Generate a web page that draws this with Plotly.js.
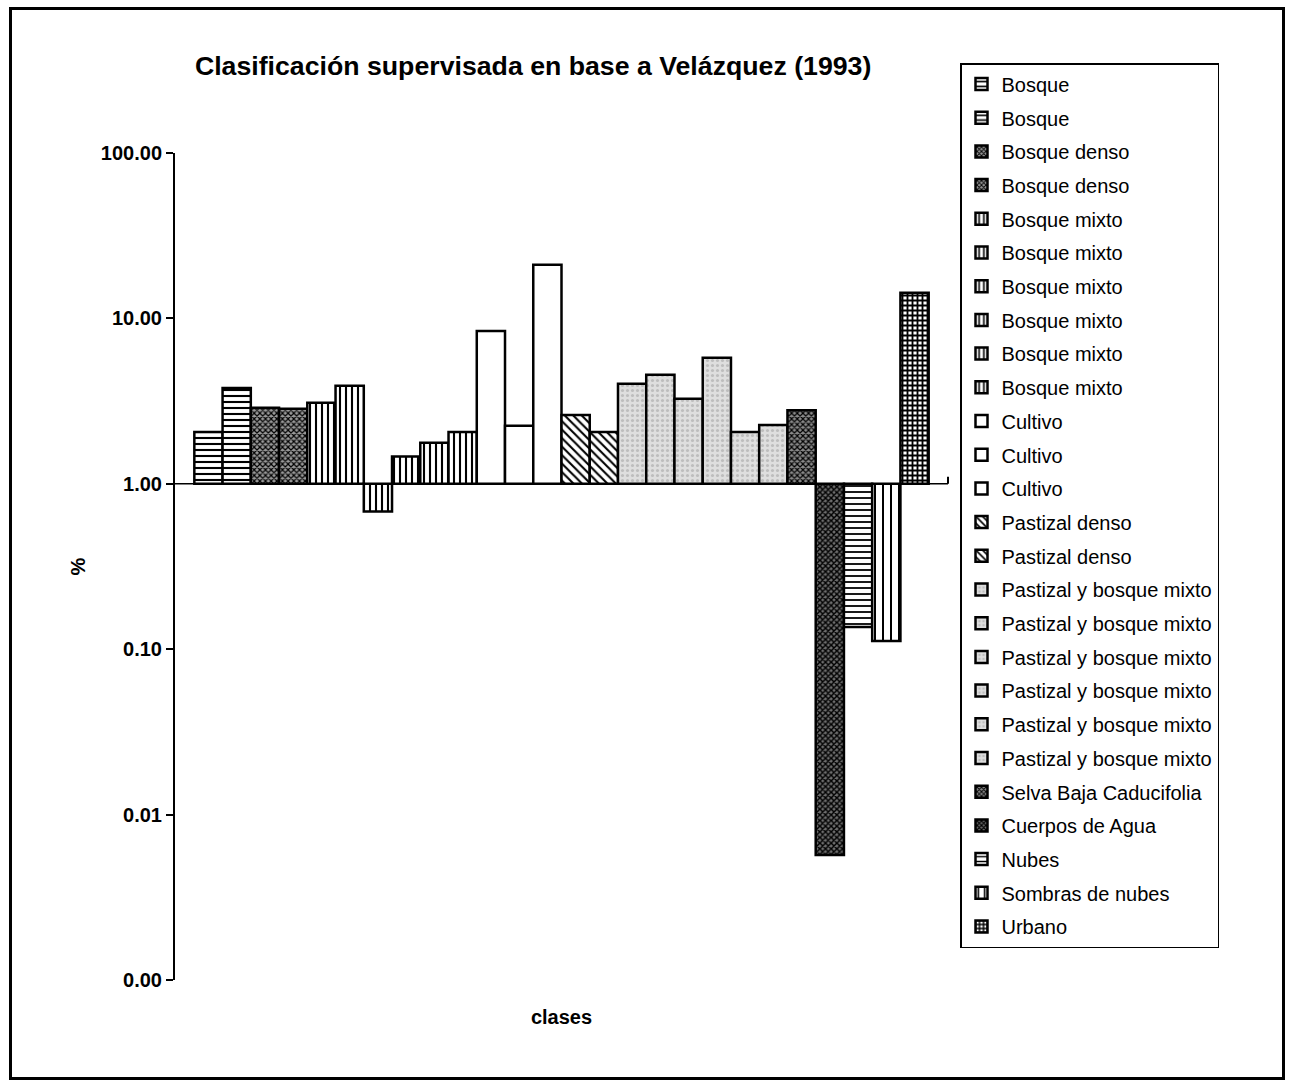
<!DOCTYPE html>
<html>
<head>
<meta charset="utf-8">
<script src="https://cdn.plot.ly/plotly-3.0.1.min.js"></script>
<style>
  html, body { margin: 0; padding: 0; background: #fff; }
  #wrap { position: relative; width: 1294px; height: 1082px; }
  #chart { position: absolute; left: 0; top: 0; width: 1294px; height: 1082px; }
  #frame { position: absolute; left: 9px; top: 7px; width: 1276px; height: 1073px;
           box-sizing: border-box; border: 3px solid #000; pointer-events: none; }
</style>
</head>
<body>
<div id="wrap">
  <div id="chart"></div>
  <div id="frame"></div>
</div>
<script>
// ---- data ----
const category = ['clases'];
const seriesNames = [
  'Bosque', 'Bosque',
  'Bosque denso', 'Bosque denso',
  'Bosque mixto', 'Bosque mixto', 'Bosque mixto', 'Bosque mixto', 'Bosque mixto', 'Bosque mixto',
  'Cultivo', 'Cultivo', 'Cultivo',
  'Pastizal denso', 'Pastizal denso',
  'Pastizal y bosque mixto', 'Pastizal y bosque mixto', 'Pastizal y bosque mixto',
  'Pastizal y bosque mixto', 'Pastizal y bosque mixto', 'Pastizal y bosque mixto',
  'Selva Baja Caducifolia', 'Cuerpos de Agua', 'Nubes', 'Sombras de nubes', 'Urbano'
];
const percentValues = [
  2.06, 3.80,
  2.88, 2.84,
  3.09, 3.91, 0.68, 1.46, 1.77, 2.06,
  8.4, 2.24, 21.1,
  2.61, 2.06,
  4.02, 4.56, 3.27, 5.78, 2.06, 2.27,
  2.78, 0.0057, 0.136, 0.112, 14.3
];
const baseline = 1.0;
const yTickValues = [100, 10, 1, 0.1, 0.01, 0.001];
const yTickLabels = ['100.00', '10.00', '1.00', '0.10', '0.01', '0.00'];

// ---- styles (fill patterns per class) ----
const patternFor = {
  'Bosque':                  {shape: '-',  fgcolor: '#000', bgcolor: '#fff', size: 6, solidity: 0.35},
  'Bosque denso':            {shape: 'x',  fgcolor: '#000', bgcolor: '#9a9a9a', size: 4, solidity: 0.5},
  'Bosque mixto':            {shape: '|',  fgcolor: '#000', bgcolor: '#fff', size: 6, solidity: 0.35},
  'Cultivo':                 {shape: '',   bgcolor: '#fff'},
  'Pastizal denso':          {shape: '\\', fgcolor: '#000', bgcolor: '#fff', size: 6, solidity: 0.35},
  'Pastizal y bosque mixto': {shape: '.',  fgcolor: '#bdbdbd', bgcolor: '#dedede', size: 5, solidity: 0.3},
  'Selva Baja Caducifolia':  {shape: 'x',  fgcolor: '#000', bgcolor: '#8a8a8a', size: 4, solidity: 0.5},
  'Cuerpos de Agua':         {shape: 'x',  fgcolor: '#000', bgcolor: '#6e6e6e', size: 4, solidity: 0.6},
  'Nubes':                   {shape: '-',  fgcolor: '#000', bgcolor: '#fff', size: 6, solidity: 0.3},
  'Sombras de nubes':        {shape: '|',  fgcolor: '#000', bgcolor: '#fff', size: 8, solidity: 0.25},
  'Urbano':                  {shape: '+',  fgcolor: '#000', bgcolor: '#fff', size: 5, solidity: 0.6}
};

const traces = seriesNames.map(function (name, i) {
  const p = patternFor[name];
  return {
    type: 'bar',
    name: name,
    legendgroup: 'g' + i,
    x: category,
    y: [percentValues[i] - baseline],
    base: [baseline],
    marker: {
      color: p.bgcolor,
      line: {color: '#000', width: 2.5},
      pattern: p.shape ? {shape: p.shape, fgcolor: p.fgcolor, bgcolor: p.bgcolor,
                          size: p.size, solidity: p.solidity, fillmode: 'replace'} : {shape: ''}
    },
    hovertemplate: name + ': %{customdata}<extra></extra>',
    customdata: [percentValues[i]]
  };
});

const layout = {
  width: 1294,
  height: 1082,
  paper_bgcolor: '#fff',
  plot_bgcolor: '#fff',
  margin: {l: 175, r: 346, t: 153, b: 102, pad: 0},
  font: {family: '"Liberation Sans", Arial, sans-serif', color: '#000'},
  title: {
    text: 'Clasificación supervisada en base a Velázquez (1993)',
    font: {size: 26.7, weight: 'bold', family: '"Liberation Sans", Arial, sans-serif', color: '#000'},
    xref: 'container', x: 0.412, xanchor: 'center',
    yref: 'container', y: 0.939, yanchor: 'middle'
  },
  barmode: 'group',
  bargap: 0.05,
  bargroupgap: 0,
  showlegend: true,
  legend: {
    xref: 'container', x: 960 / 1294, xanchor: 'left',
    yref: 'container', y: 1 - 63 / 1082, yanchor: 'top',
    maxheight: 1,
    bordercolor: '#000', borderwidth: 1.5,
    bgcolor: '#fff',
    font: {size: 20, family: '"Liberation Sans", Arial, sans-serif', color: '#000'},
    tracegroupgap: 4.7,
    traceorder: 'grouped',
    itemclick: false, itemdoubleclick: false
  },
  xaxis: {
    type: 'category',
    showline: false,
    showticklabels: false,
    ticks: '',
    showgrid: false,
    zeroline: false,
    fixedrange: true,
    title: {text: 'clases', standoff: 29,
            font: {size: 20, weight: 'bold', family: '"Liberation Sans", Arial, sans-serif', color: '#000'}}
  },
  yaxis: {
    type: 'log',
    range: [-3, 2],
    tickmode: 'array',
    tickvals: yTickValues,
    ticktext: yTickLabels,
    ticks: 'outside',
    ticklen: 7,
    tickwidth: 2,
    tickcolor: '#000',
    showline: true,
    linecolor: '#000',
    linewidth: 2,
    showgrid: false,
    zeroline: false,
    fixedrange: true,
    tickfont: {size: 20, weight: 'bold', family: '"Liberation Sans", Arial, sans-serif', color: '#000'},
    title: {text: '%', standoff: 10,
            font: {size: 20, weight: 'bold', family: '"Liberation Sans", Arial, sans-serif', color: '#000'}}
  },
  shapes: [
    {type: 'line', xref: 'paper', x0: 0, x1: 1, yref: 'y', y0: baseline, y1: baseline,
     line: {color: '#000', width: 1.5}, layer: 'below'},
    {type: 'line', xref: 'paper', x0: 1, x1: 1, yref: 'y', ysizemode: 'pixel', yanchor: baseline,
     y0: -7, y1: 7, line: {color: '#000', width: 2}}
  ]
};

Plotly.newPlot('chart', traces, layout, {displayModeBar: false, staticPlot: false});
</script>
</body>
</html>
